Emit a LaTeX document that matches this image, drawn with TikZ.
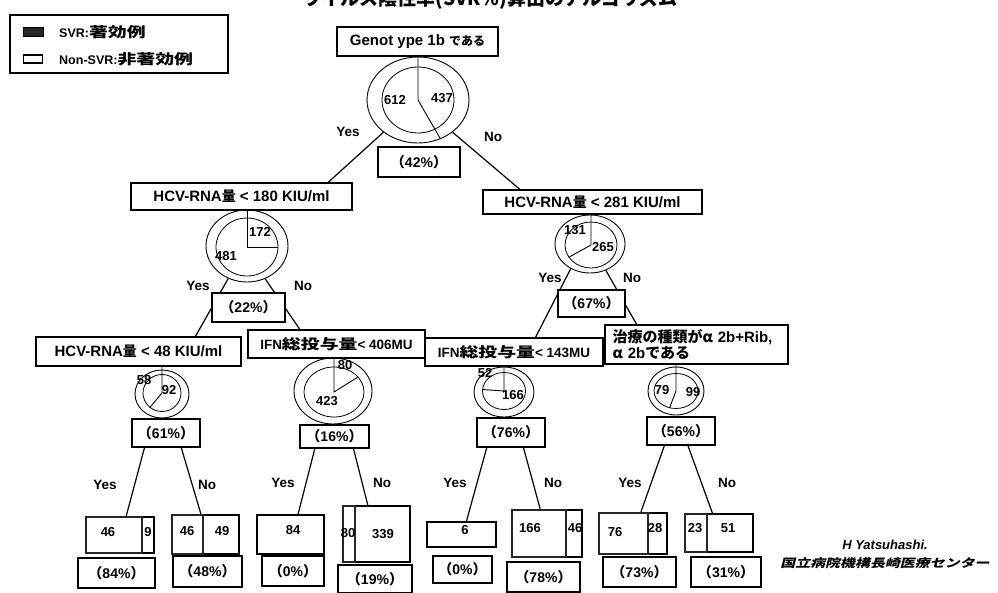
\documentclass[tikz,border=0pt]{standalone}
\usepackage{fontspec}
\setmainfont{Liberation Sans}
\newfontfamily\jp{Noto Sans CJK JP}
\newfontfamily\jpw[FakeStretch=1.35]{Noto Sans CJK JP}
\newfontfamily\jpwit[FakeStretch=1.3,FakeSlant=0.25]{Noto Sans CJK JP}
\usetikzlibrary{shapes.geometric,calc,backgrounds}
\tikzset{
  box/.style={draw, line width=1.3pt, fill=white, inner sep=0pt, font=\bfseries\fontsize{15}{17}\selectfont},
  pbox/.style={draw, line width=1.3pt, fill=white, inner sep=0pt, font=\bfseries\fontsize{14}{16}\selectfont},
  ring/.style={draw, ellipse, line width=0.9pt, inner sep=0pt},
  inring/.style={draw, ellipse, line width=0.8pt, inner sep=0pt},
  conn/.style={line width=1.2pt},
  sect/.style={line width=0.9pt},
  yn/.style={font=\bfseries\fontsize{13.5}{15}\selectfont, inner sep=0pt},
  num/.style={font=\bfseries\fontsize{13}{14}\selectfont, inner sep=0pt},
  lnum/.style={font=\bfseries\fontsize{13}{14}\selectfont, inner sep=0pt},
  svr/.style={draw=black!85, line width=2.4pt, fill=white, inner sep=0pt},
  nsvr/.style={draw, line width=1.2pt, fill=white, inner sep=0pt},
}
\begin{document}
\begin{tikzpicture}[x=1pt,y=-1pt]
\useasboundingbox (0,0) rectangle (998,593);
\clip (0,0) rectangle (998,593);

% title (cut off at top)
\node[anchor=base, inner sep=0pt, font=\jp\bfseries\fontsize{19}{20}\selectfont] (title) at (490,6) {ウイルス陰性率(SVR\%)算出のアルゴリズム};

% legend
\node[draw, line width=2pt, minimum width=218pt, minimum height=58pt, inner sep=0pt] (legend) at (119,44) {};
\node[draw, fill=black!85, line width=1pt, minimum width=20pt, minimum height=9pt, inner sep=0pt] (sw1) at (33,32) {};
\node[draw, line width=1.2pt, minimum width=19pt, minimum height=8pt, inner sep=0pt] (sw2) at (33,59) {};
\node[anchor=west, inner sep=0pt, font=\bfseries\fontsize{12.5}{13}\selectfont] (lt1) at (59,32) {SVR:{\jpw\fontsize{14}{15}\selectfont 著効例}};
\node[anchor=west, inner sep=0pt, font=\bfseries\fontsize{12.5}{13}\selectfont] (lt2) at (59,59) {Non-SVR:{\jpw\fontsize{14}{15}\selectfont 非著効例}};

% level 0
\node[box, minimum width=161pt, minimum height=29pt] (root) at (417.5,41.5) {Genot ype 1b {\jp\fontsize{12}{13}\selectfont である}};
\node[ring, minimum width=102pt, minimum height=86pt] (p0) at (418,100) {};
\node[inring, minimum width=72pt, minimum height=66pt] (p0i) at (418,100) {};
\draw[sect] (p0i.center |- root.south) -- (p0i.center) -- (p0.-60);
\node[num] (n0a) at (395,100) {612};
\node[num] (n0b) at (442,98) {437};
\node[pbox, minimum width=82pt, minimum height=30pt] (pc0) at (419,162) {{\jp （}42\%{\jp ）}};
\node[yn] (y0) at (348,132) {Yes};
\node[yn] (o0) at (493,137) {No};

% level 1
\node[box, minimum width=221pt, minimum height=27pt] (b1) at (241.5,196.5) {HCV-RNA{\jp\fontsize{14}{15}\selectfont 量} < 180 KIU/ml};
\node[box, minimum width=219pt, minimum height=24pt] (b2) at (592.5,202) {HCV-RNA{\jp\fontsize{14}{15}\selectfont 量} < 281 KIU/ml};

\node[ring, minimum width=82pt, minimum height=72pt] (p1) at (247,246) {};
\node[inring, minimum width=62pt, minimum height=58pt] (p1i) at (247,247) {};
\draw[sect] (p1i.center |- b1.south) -- (p1i.center) -- (p1i.0);
\node[num] (n1a) at (260,232) {172};
\node[num] (n1b) at (226,256) {481};
\node[pbox, minimum width=73pt, minimum height=29pt] (pc1) at (248.5,307.5) {{\jp （}22\%{\jp ）}};
\node[yn] (y1) at (198,286) {Yes};
\node[yn] (o1) at (303,286) {No};

\node[ring, minimum width=70pt, minimum height=58pt] (p2) at (590,244) {};
\node[inring, minimum width=52pt, minimum height=46pt] (p2i) at (591,245) {};
\draw[sect] (p2i.center |- b2.south) -- (p2i.center) -- (p2i.-151);
\node[num] (n2a) at (575,230) {131};
\node[num] (n2b) at (603,247) {265};
\node[pbox, minimum width=67pt, minimum height=27pt] (pc2) at (591.5,303.5) {{\jp （}67\%{\jp ）}};
\node[yn] (y2) at (550,278) {Yes};
\node[yn] (o2) at (632,278) {No};

% level 2
\node[box, minimum width=205pt, minimum height=29pt] (b3) at (138.5,351.5) {HCV-RNA{\jp\fontsize{14}{15}\selectfont 量} < 48 KIU/ml};
\node[box, minimum width=177pt, minimum height=28pt, font=\bfseries\fontsize{13.5}{15}\selectfont] (b4) at (336.5,344) {IFN{\jpw\fontsize{14}{15}\selectfont 総投与量}< 406MU};
\node[box, minimum width=178pt, minimum height=28pt, font=\bfseries\fontsize{13.5}{15}\selectfont] (b5) at (514,352) {IFN{\jpw\fontsize{14}{15}\selectfont 総投与量}< 143MU};
\node[box, minimum width=183pt, minimum height=39pt, align=left, text width=168pt, font=\bfseries\fontsize{15}{16.5}\selectfont] (b6) at (696.5,344.5) {{\jp 治療の種類がα} 2b+Rib,\\{\jp α} 2b{\jp である}};

\node[ring, minimum width=54pt, minimum height=48pt] (p3) at (162,394) {};
\node[inring, minimum width=38pt, minimum height=37pt] (p3i) at (162,393) {};
\draw[sect] (p3i.center |- b3.south) -- (p3i.center) -- (p3i.-130);
\node[num] (n3a) at (144,380) {58};
\node[num] (n3b) at (169,390) {92};
\node[pbox, minimum width=68pt, minimum height=28pt] (pc3) at (166,433) {{\jp （}61\%{\jp ）}};

\node[ring, minimum width=78pt, minimum height=66pt] (p4) at (333,391) {};
\node[inring, minimum width=60pt, minimum height=50pt] (p4i) at (334,392) {};
\draw[sect] (p4i.center |- b4.south) -- (p4i.center) -- (p4i.32);
\node[num] (n4a) at (345,365) {80};
\node[num] (n4b) at (327,401) {423};
\node[pbox, minimum width=69pt, minimum height=23pt] (pc4) at (334.5,436.5) {{\jp （}16\%{\jp ）}};

\node[ring, minimum width=60pt, minimum height=50pt] (p5) at (504,392) {};
\node[inring, minimum width=43pt, minimum height=37pt] (p5i) at (504,391) {};
\draw[sect] (p5i.center |- b5.south) -- (p5i.center) -- (p5i.176);
\node[num] (n5a) at (485,373) {52};
\node[num] (n5b) at (513,395) {166};
\node[pbox, minimum width=68pt, minimum height=29pt] (pc5) at (511,432.5) {{\jp （}76\%{\jp ）}};

\node[ring, minimum width=56pt, minimum height=48pt] (p6) at (676,391) {};
\node[inring, minimum width=44pt, minimum height=35pt] (p6i) at (676,391) {};
\draw[sect] (p6i.center |- b6.south) -- (p6i.center) -- (p6i.-111);
\node[num] (n6a) at (662,390) {79};
\node[num] (n6b) at (693,392) {99};
\node[pbox, minimum width=68pt, minimum height=28pt] (pc6) at (681,431) {{\jp （}56\%{\jp ）}};

% yes / no level 3
\node[yn] (y3) at (105,485) {Yes};
\node[yn] (o3) at (207,485) {No};
\node[yn] (y4) at (283,483) {Yes};
\node[yn] (o4) at (382,483) {No};
\node[yn] (y5) at (455,483) {Yes};
\node[yn] (o5) at (553,483) {No};
\node[yn] (y6) at (630,483) {Yes};
\node[yn] (o6) at (727,483) {No};

% leaves
\node[nsvr, minimum width=12pt, minimum height=36pt] (l1b) at (148,535) {};
\node[svr, minimum width=56pt, minimum height=36pt] (l1a) at (114,535) {};
\node[lnum] (t1a) at (108,532) {46};
\node[lnum] (t1b) at (148,532) {9};
\node[pbox, minimum width=77pt, minimum height=30pt] (q1) at (116.5,573) {{\jp （}84\%{\jp ）}};

\node[nsvr, minimum width=36pt, minimum height=39pt] (l2b) at (221,534.5) {};
\node[svr, minimum width=31pt, minimum height=39pt] (l2a) at (187.5,534.5) {};
\node[lnum] (t2a) at (187,531) {46};
\node[lnum] (t2b) at (222,531) {49};
\node[pbox, minimum width=69pt, minimum height=31pt] (q2) at (207.5,571.5) {{\jp （}48\%{\jp ）}};

\node[nsvr, minimum width=67pt, minimum height=39pt] (l3) at (290.5,534.5) {};
\node[lnum] (t3) at (293,530) {84};
\node[pbox, minimum width=62pt, minimum height=30pt] (q3) at (293,571) {{\jp （}0\%{\jp ）}};

\node[nsvr, minimum width=55pt, minimum height=56pt] (l4b) at (382.5,534) {};
\node[svr, minimum width=12pt, minimum height=56pt] (l4a) at (349,534) {};
\node[lnum] (t4a) at (348,533) {80};
\node[lnum] (t4b) at (383,534) {339};
\node[pbox, minimum width=74pt, minimum height=28pt] (q4) at (375,579) {{\jp （}19\%{\jp ）}};

\node[nsvr, minimum width=69pt, minimum height=25pt] (l5) at (461.5,534.5) {};
\node[lnum] (t5) at (465,530) {6};
\node[pbox, minimum width=59pt, minimum height=27pt] (q5) at (462.5,569.5) {{\jp （}0\%{\jp ）}};

\node[nsvr, minimum width=16pt, minimum height=47pt] (l6b) at (574,533.5) {};
\node[svr, minimum width=54pt, minimum height=47pt] (l6a) at (539,533.5) {};
\node[lnum] (t6a) at (530,528) {166};
\node[lnum] (t6b) at (575,528) {46};
\node[pbox, minimum width=73pt, minimum height=30pt] (q6) at (543.5,577) {{\jp （}78\%{\jp ）}};

\node[nsvr, minimum width=19pt, minimum height=41pt] (l7b) at (657.5,533.5) {};
\node[svr, minimum width=49pt, minimum height=41pt] (l7a) at (623.5,533.5) {};
\node[lnum] (t7a) at (615,532) {76};
\node[lnum] (t7b) at (655,528) {28};
\node[pbox, minimum width=73pt, minimum height=30pt] (q7) at (639.5,572) {{\jp （}73\%{\jp ）}};

\node[nsvr, minimum width=46pt, minimum height=38pt] (l8b) at (730,533) {};
\node[svr, minimum width=22pt, minimum height=38pt] (l8a) at (696,533) {};
\node[lnum] (t8a) at (695,528) {23};
\node[lnum] (t8b) at (728,528) {51};
\node[pbox, minimum width=70pt, minimum height=30pt] (q8) at (726,572) {{\jp （}31\%{\jp ）}};

% author
\node[inner sep=0pt, font=\bfseries\itshape\fontsize{13}{14}\selectfont] (auth1) at (885,545) {H Yatsuhashi.};
\node[inner sep=0pt, font=\jpwit\bfseries\fontsize{11.5}{13}\selectfont] (auth2) at (885,563) {国立病院機構長崎医療センター};

% connectors
\begin{pgfonlayer}{background}
\fill[white] (0,0) rectangle (998,593);
\draw[conn] (p0.223) -- ($(b1.north west)!0.89!(b1.north east)$);
\draw[conn] (p0.317) -- ($(b2.north west)!0.17!(b2.north east)$);
\draw[conn] (p1.240) -- ($(b3.north west)!0.776!(b3.north east)$);
\draw[conn] (p1.299) -- ($(b4.north west)!0.294!(b4.north east)$);
\draw[conn] (p2.232) -- ($(b5.north west)!0.62!(b5.north east)$);
\draw[conn] (p2.301) -- ($(b6.north west)!0.175!(b6.north east)$);
\draw[conn] ($(pc3.south west)!0.19!(pc3.south east)$) -- ($(l1a.north west)!0.71!(l1a.north east)$);
\draw[conn] ($(pc3.south west)!0.72!(pc3.south east)$) -- ($(l2a.north west)!0.9!(l2a.north east)$);
\draw[conn] ($(pc4.south west)!0.22!(pc4.south east)$) -- ($(l3.north west)!0.61!(l3.north east)$);
\draw[conn] ($(pc4.south west)!0.77!(pc4.south east)$) -- ($(l4b.north west)!0.24!(l4b.north east)$);
\draw[conn] ($(pc5.south west)!0.15!(pc5.south east)$) -- ($(l5.north west)!0.57!(l5.north east)$);
\draw[conn] ($(pc5.south west)!0.68!(pc5.south east)$) -- ($(l6a.north west)!0.52!(l6a.north east)$);
\draw[conn] ($(pc6.south west)!0.26!(pc6.south east)$) -- ($(l7a.north west)!0.84!(l7a.north east)$);
\draw[conn] ($(pc6.south west)!0.6!(pc6.south east)$) -- ($(l8b.north west)!0.13!(l8b.north east)$);
\end{pgfonlayer}
\end{tikzpicture}
\end{document}
